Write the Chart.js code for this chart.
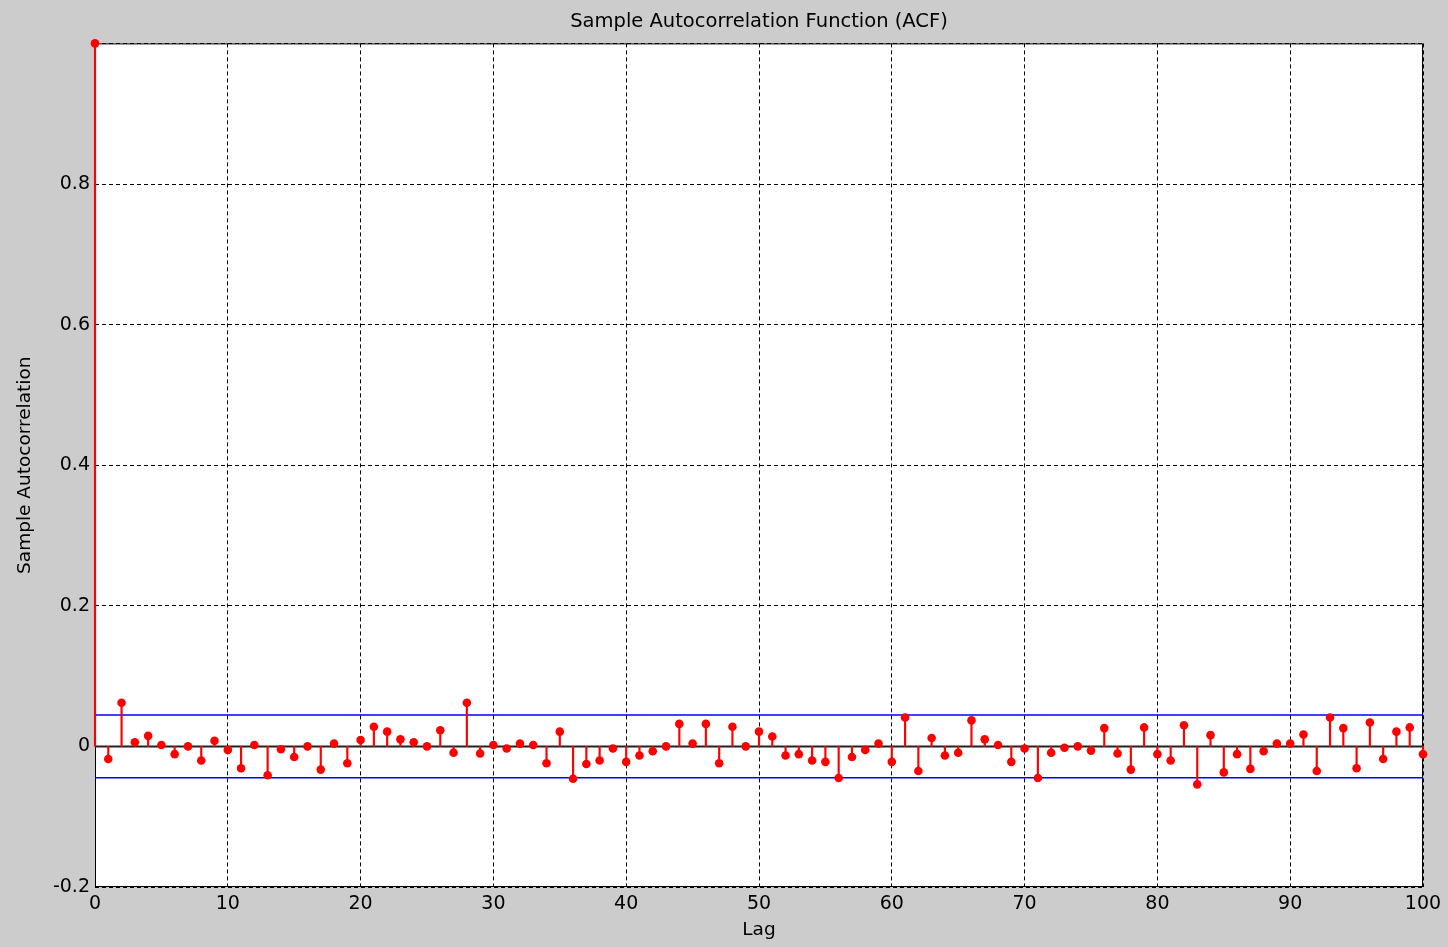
<!DOCTYPE html>
<html>
<head>
<meta charset="utf-8">
<title>Sample Autocorrelation Function (ACF)</title>
<script src="https://cdn.jsdelivr.net/npm/chart.js@4"></script>
<style>
    html, body { margin: 0; padding: 0; background: #cccccc; }
    canvas { display: block; }
</style>
</head>
<body>
<canvas id="acfChart" width="1448" height="947"></canvas>
<script>
// Sample autocorrelation, one value per lag (lag = array index, 0..100)
const acfValues = [
    1.000, -0.018, 0.062, 0.006, 0.015, 0.002, -0.011, 0.000, -0.020, 0.008,
    -0.005, -0.031, 0.002, -0.041, -0.004, -0.015, 0.000, -0.033, 0.004, -0.024,
    0.009, 0.028, 0.021, 0.010, 0.006, 0.000, 0.023, -0.009, 0.062, -0.010,
    0.002, -0.003, 0.004, 0.002, -0.024, 0.021, -0.046, -0.025, -0.020, -0.003,
    -0.022, -0.013, -0.007, 0.000, 0.032, 0.004, 0.032, -0.024, 0.028, 0.000,
    0.021, 0.014, -0.013, -0.011, -0.020, -0.022, -0.045, -0.015, -0.005, 0.004,
    -0.022, 0.041, -0.035, 0.012, -0.013, -0.009, 0.037, 0.010, 0.002, -0.022,
    -0.003, -0.045, -0.009, -0.002, 0.000, -0.006, 0.026, -0.010, -0.033, 0.027,
    -0.011, -0.020, 0.030, -0.054, 0.016, -0.037, -0.011, -0.032, -0.007, 0.004,
    0.004, 0.017, -0.035, 0.041, 0.026, -0.031, 0.034, -0.018, 0.021, 0.027,
    -0.011
];

// Approximate 95% confidence bounds
const confBounds = [0.0445, -0.0445];

// Axis limits
const lagRange = [0, 100];
const acfRange = [-0.2, 1];

const points = acfValues.map((v, i) => ({ x: i, y: v }));

function hLine(y) {
    return [{ x: lagRange[0], y: y }, { x: lagRange[1], y: y }];
}

const textFont = 'DejaVu Sans';

// White plot background and a full box frame like MATLAB axes
const axesBox = {
    id: 'axesBox',
    beforeDraw(chart) {
        const { ctx, chartArea: a } = chart;
        ctx.save();
        ctx.fillStyle = '#ffffff';
        ctx.fillRect(a.left, a.top, a.right - a.left, a.bottom - a.top);
        ctx.restore();
    },
    beforeDatasetsDraw(chart) {
        const { ctx, chartArea: a } = chart;
        ctx.save();
        ctx.strokeStyle = '#000000';
        ctx.lineWidth = 1;
        ctx.strokeRect(a.left + 0.5, a.top + 0.5, a.right - a.left - 1, a.bottom - a.top - 1);
        ctx.restore();
    }
};

const ctx = document.getElementById('acfChart').getContext('2d');
const acfChart = new Chart(ctx, {
    type: 'scatter',
    data: {
        datasets: [
            {
                // markers on top
                type: 'scatter',
                data: points,
                pointRadius: 4.3,
                pointHoverRadius: 4.3,
                pointBackgroundColor: '#ff0000',
                pointBorderWidth: 0,
                clip: false
            },
            {
                // stems
                type: 'bar',
                data: points,
                backgroundColor: '#ff0000',
                barThickness: 1.5,
                grouped: false,
                clip: false
            },
            {
                type: 'line',
                data: hLine(0),
                borderColor: '#222222',
                borderWidth: 2,
                pointRadius: 0
            },
            {
                type: 'line',
                data: hLine(confBounds[0]),
                borderColor: '#0000ff',
                borderWidth: 1.5,
                pointRadius: 0
            },
            {
                type: 'line',
                data: hLine(confBounds[1]),
                borderColor: '#0000ff',
                borderWidth: 1.5,
                pointRadius: 0
            }
        ]
    },
    options: {
        responsive: false,
        animation: false,
        layout: {
            padding: { left: 0, right: 25, top: 0, bottom: 0 }
        },
        scales: {
            x: {
                type: 'linear',
                min: lagRange[0],
                max: lagRange[1],
                offset: false,
                afterFit(scale) { scale.height = 60; },
                ticks: {
                    stepSize: 10,
                    padding: 6,
                    color: '#000000',
                    font: { family: textFont, size: 19 }
                },
                grid: {
                    color: '#000000',
                    lineWidth: 1,
                    drawTicks: false,
                    offset: false
                },
                border: { display: false, dash: [4, 3] },
                title: {
                    display: true,
                    text: 'Lag',
                    color: '#000000',
                    font: { family: textFont, size: 18.5 },
                    padding: { top: 0, bottom: 6 }
                }
            },
            y: {
                type: 'linear',
                min: acfRange[0],
                max: acfRange[1],
                afterFit(scale) { scale.width = 95; },
                ticks: {
                    stepSize: 0.2,
                    padding: 5,
                    color: '#000000',
                    font: { family: textFont, size: 19 },
                    callback: function(value) {
                        if (value > 0.99) {
                            return '';
                        }
                        return String(+value.toFixed(1));
                    }
                },
                grid: {
                    color: '#000000',
                    lineWidth: 1,
                    drawTicks: false
                },
                border: { display: false, dash: [4, 3] },
                title: {
                    display: true,
                    text: 'Sample Autocorrelation',
                    color: '#000000',
                    font: { family: textFont, size: 18.5 },
                    padding: { top: 14, bottom: 0 }
                }
            }
        },
        plugins: {
            legend: { display: false },
            tooltip: { enabled: false },
            title: {
                display: true,
                text: 'Sample Autocorrelation Function (ACF)',
                fullSize: false,
                color: '#000000',
                font: { family: textFont, size: 19.5, weight: 'normal' },
                padding: { top: 10, bottom: 10 }
            }
        }
    },
    plugins: [axesBox]
});
</script>
</body>
</html>
